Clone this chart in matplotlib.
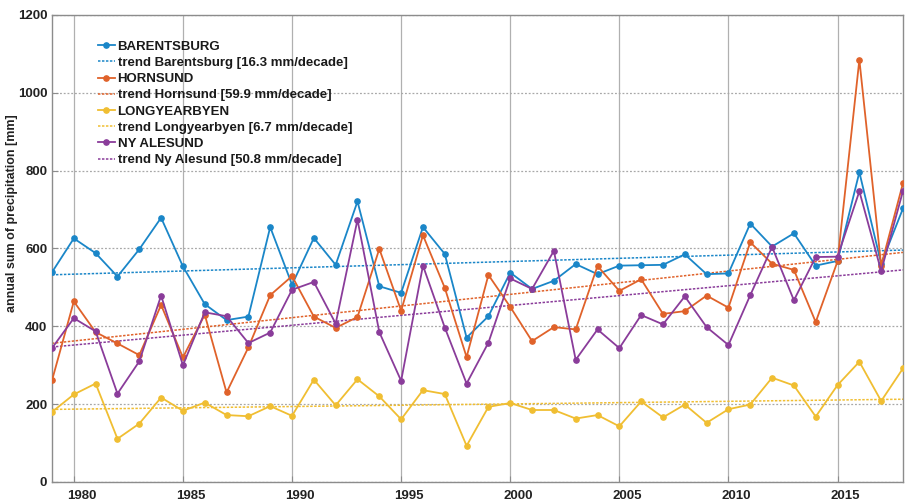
import numpy as np
import matplotlib
matplotlib.use("Agg")
import matplotlib.pyplot as plt
from matplotlib.transforms import ScaledTranslation

# Annual precipitation sums at four Svalbard stations
years = list(range(1979, 2019))

barentsburg = [539, 626, 588, 528, 598, 679, 554, 457, 416, 425,
               655, 507, 627, 558, 721, 503, 486, 655, 586, 371,
               426, 538, 496, 517, 560, 534, 556, 557, 558,
               585, 534, 536, 664, 605, 639, 556, 568, 796, 561, 703]
hornsund = [261, 464, 385, 356, 326, 455, 320, 430, 230, 346,
            480, 529, 425, 396, 424, 599, 440, 634, 499, 321,
            532, 450, 362, 398, 392, 555, 491, 521, 432,
            439, 479, 448, 616, 561, 545, 411, 567, 1085, 556, 768]
longyearbyen = [180, 225, 253, 111, 150, 217, 183, 204, 172, 169,
                195, 170, 263, 197, 264, 220, 161, 236, 226, 93,
                193, 203, 185, 185, 163, 172, 143, 207, 166,
                199, 152, 187, 199, 268, 248, 168, 249, 309, 208, 292]
ny_alesund = [344, 421, 387, 227, 310, 479, 300, 436, 426, 357,
              384, 494, 514, 407, 674, 385, 260, 556, 397, 253,
              358, 523, 496, 594, 314, 392, 344, 429, 405,
              477, 398, 352, 480, 604, 467, 578, 579, 747, 542, 748]

station_names = ["BARENTSBURG", "HORNSUND", "LONGYEARBYEN", "NY ALESUND"]
trend_names = ["Barentsburg", "Hornsund", "Longyearbyen", "Ny Alesund"]
trend_slopes = [16.3, 59.9, 6.7, 50.8]  # mm/decade

series = [barentsburg, hornsund, longyearbyen, ny_alesund]
colors = ["#1a86c8", "#e0622a", "#f0be32", "#8a3c9a"]

x_ticks = [1980, 1985, 1990, 1995, 2000, 2005, 2010, 2015]
y_ticks = [0, 200, 400, 600, 800, 1000, 1200]

plt.rcParams["font.family"] = ["Liberation Sans", "DejaVu Sans"]

fig = plt.figure(figsize=(9.05, 5.03), dpi=100)
ax = fig.add_axes([52 / 905, 21 / 503, 851 / 905, 467 / 503])

yrs = np.array(years, dtype=float)
for name, tname, slope, vals, col in zip(station_names, trend_names,
                                         trend_slopes, series, colors):
    v = np.array(vals, dtype=float)
    ax.plot(yrs, v, "-o", color=col, lw=1.3, ms=3.8, mfc=col, mec=col,
            label=name, zorder=3)
    # linear trend with the stated slope, passing through the series mean
    k = slope / 10.0
    trend = v.mean() + k * (yrs - yrs.mean())
    ax.plot(yrs, trend, linestyle=(0, (1.6, 1.0)), color=col, lw=1.1,
            label=f"trend {tname} [{slope} mm/decade]", zorder=2)

ax.set_xlim(1979, 2018)
ax.set_ylim(0, 1200)
ax.set_xticks(x_ticks)
ax.set_yticks(y_ticks)

ax.xaxis.grid(True, color="#b0b0b0", lw=0.9, ls="-")
ax.yaxis.grid(True, color="#a8a8a8", lw=0.9, ls=(0, (1.5, 1.5)))
ax.set_axisbelow(True)

for s in ax.spines.values():
    s.set_color("#8c8c8c")
    s.set_linewidth(1.0)

ax.tick_params(direction="in", length=4, width=0.8, color="#8c8c8c",
               labelsize=9.5, labelcolor="#222222")
ax.tick_params(axis="x", pad=6)
shift = ScaledTranslation(8 / 100, 0, fig.dpi_scale_trans)
for lab in ax.get_xticklabels():
    lab.set_fontweight("bold")
    lab.set_transform(lab.get_transform() + shift)
for lab in ax.get_yticklabels():
    lab.set_fontweight("bold")

ax.set_ylabel("annual sum of precipitation [mm]", fontsize=9,
              fontweight="bold", color="#222222")
ax.yaxis.set_label_coords(-0.040, 0.576)

leg = ax.legend(loc="upper left", bbox_to_anchor=(0.043, 0.965),
                frameon=False, fontsize=9.5, handlelength=1.3,
                handletextpad=0.2, labelspacing=0.3, borderpad=0.2)
for t in leg.get_texts():
    t.set_fontweight("bold")
    t.set_color("#1a1a1a")

fig.savefig("out.png", dpi=100)
